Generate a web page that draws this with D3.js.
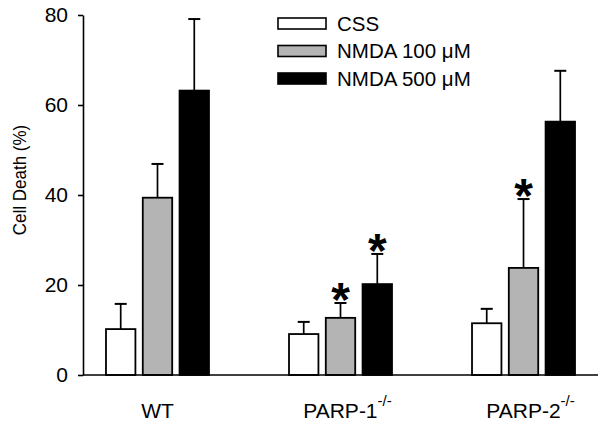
<!DOCTYPE html>
<html>
<head>
<meta charset="utf-8">
<script src="https://cdn.jsdelivr.net/npm/d3@7"></script>
<style>
  body { margin: 0; background: #fff; }
  text { font-family: "Liberation Sans", Arial, sans-serif; fill: #000; }
</style>
</head>
<body>
<div id="chart"></div>
<script>
// data
var groups = ["WT", "PARP-1", "PARP-2"];
var series = ["CSS", "NMDA 100 \u03bcM", "NMDA 500 \u03bcM"];
var cssVals = [10.2, 9.1, 11.5];
var nmda100Vals = [39.4, 12.7, 23.8];
var nmda500Vals = [63.2, 20.2, 56.3];
var cssErr = [5.6, 2.7, 3.2];
var nmda100Err = [7.5, 3.3, 15.3];
var nmda500Err = [15.9, 6.7, 11.3];
var yTicks = [0, 20, 40, 60, 80];
// asterisks: [group index, series index]
var stars = [[1, 1], [1, 2], [2, 1]];

var colors = ["#ffffff", "#b4b4b4", "#000000"];
var w = 600, h = 428;

var svg = d3.select("#chart").append("svg")
  .attr("width", w)
  .attr("height", h);

var y = d3.scaleLinear().domain([0, 80]).range([375, 15]);
var x0 = d3.scalePoint().domain(groups).range([83, 598]).padding(0.407);
var x1 = d3.scaleBand().domain(series).range([-51.5, 51.5]).paddingInner(0.2);

var vals = [cssVals, nmda100Vals, nmda500Vals];
var errs = [cssErr, nmda100Err, nmda500Err];
var rows = [];
groups.forEach(function(g, gi) {
  series.forEach(function(s, si) {
    rows.push({g: g, s: s, si: si, v: vals[si][gi], e: errs[si][gi]});
  });
});

// error bars first (only upper half is visible)
var eb = svg.append("g");
eb.selectAll("line.stem")
  .data(rows).enter().append("line")
  .attr("x1", function(d) { return x0(d.g) + x1(d.s) + x1.bandwidth() / 2; })
  .attr("x2", function(d) { return x0(d.g) + x1(d.s) + x1.bandwidth() / 2; })
  .attr("y1", function(d) { return y(d.v); })
  .attr("y2", function(d) { return y(d.v + d.e); })
  .attr("stroke", "#000").attr("stroke-width", 1.7);
eb.selectAll("line.cap")
  .data(rows).enter().append("line")
  .attr("x1", function(d) { return x0(d.g) + x1(d.s) + x1.bandwidth() / 2 - 6; })
  .attr("x2", function(d) { return x0(d.g) + x1(d.s) + x1.bandwidth() / 2 + 6; })
  .attr("y1", function(d) { return y(d.v + d.e); })
  .attr("y2", function(d) { return y(d.v + d.e); })
  .attr("stroke", "#000").attr("stroke-width", 2);

// bars
svg.append("g").selectAll("rect")
  .data(rows).enter().append("rect")
  .attr("x", function(d) { return x0(d.g) + x1(d.s); })
  .attr("width", x1.bandwidth())
  .attr("y", function(d) { return y(d.v); })
  .attr("height", function(d) { return y(0) - y(d.v); })
  .attr("fill", function(d) { return colors[d.si]; })
  .attr("stroke", "#000")
  .attr("stroke-width", 1.8);

// asterisks
svg.append("g").selectAll("text")
  .data(stars).enter().append("text")
  .attr("x", function(d) { return x0(groups[d[0]]) + x1(series[d[1]]) + x1.bandwidth() / 2; })
  .attr("y", function(d) { return y(vals[d[1]][d[0]] + errs[d[1]][d[0]]) + 13; })
  .attr("text-anchor", "middle")
  .style("font-size", "48px")
  .style("font-weight", "bold")
  .text("*");

// y axis
var yAxis = svg.append("g")
  .attr("transform", "translate(83,0)")
  .call(d3.axisLeft(y).tickValues(yTicks).tickSize(5).tickPadding(10).tickSizeOuter(0));
yAxis.select(".domain").attr("stroke", "#000").attr("stroke-width", 1.6);
yAxis.selectAll(".tick line").attr("stroke", "#000").attr("stroke-width", 1.6);
yAxis.selectAll(".tick text")
  .style("font-size", "21px")
  .style("font-family", "'Liberation Sans', Arial, sans-serif");

// x axis line
svg.append("line")
  .attr("x1", 83).attr("x2", 598)
  .attr("y1", y(0)).attr("y2", y(0))
  .attr("stroke", "#000").attr("stroke-width", 1.6);

// x labels
var xl = svg.append("g").selectAll("text")
  .data(groups).enter().append("text")
  .attr("x", function(d, i) { return x0(d) + (i == 0 ? 0 : 7); })
  .attr("y", 418)
  .attr("text-anchor", "middle")
  .style("font-size", "21px");
xl.append("tspan").text(function(d) { return d; });
xl.filter(function(d, i) { return i > 0; })
  .append("tspan")
  .attr("dy", -12)
  .style("font-size", "15px")
  .text("-/-");

// y title (source figure is a bit stretched sideways)
svg.append("text")
  .attr("transform", "translate(26,180) scale(1.13,1) rotate(-90)")
  .attr("text-anchor", "middle")
  .style("font-size", "17px")
  .text("Cell Death (%)");

// legend
var lg = svg.append("g").selectAll("g")
  .data(series).enter().append("g")
  .attr("transform", function(d, i) { return "translate(278," + (18 + i * 27.5) + ")"; });
lg.append("rect")
  .attr("width", 48).attr("height", 11)
  .attr("fill", function(d, i) { return colors[i]; })
  .attr("stroke", "#000").attr("stroke-width", 1.6);
lg.append("text")
  .attr("x", 59).attr("y", 12.5)
  .style("font-size", "20.5px")
  .text(function(d) { return d; });
</script>
</body>
</html>
